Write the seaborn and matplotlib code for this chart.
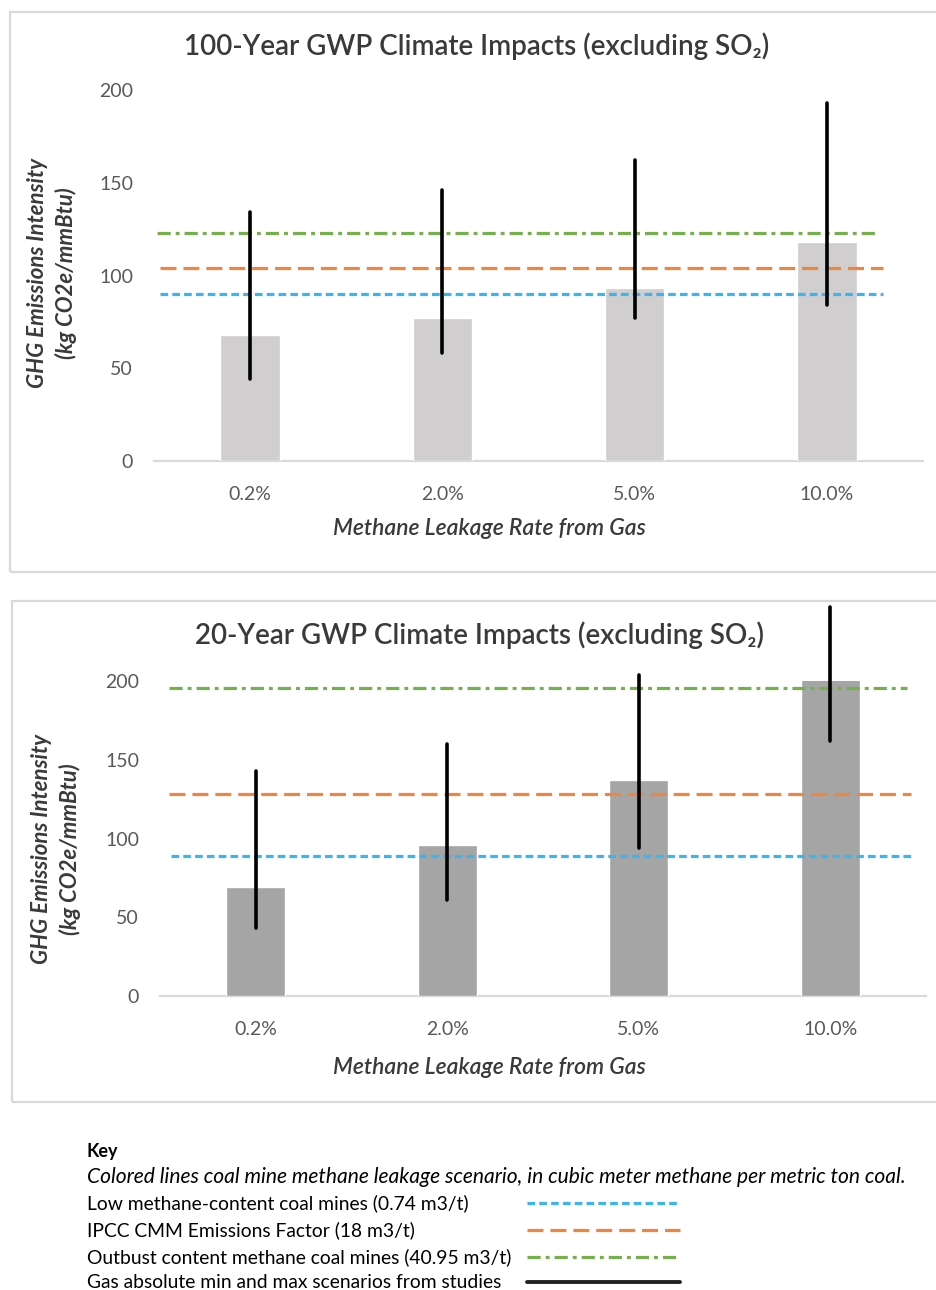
import matplotlib
matplotlib.use("Agg")
import matplotlib.pyplot as plt
from matplotlib.patches import Rectangle
import seaborn as sns
import pandas as pd

# ---------------- data ----------------
categories = ["0.2%", "2.0%", "5.0%", "10.0%"]

gwp100_gas = [68, 77, 93, 118]
gwp100_min = [44, 58, 77, 84]
gwp100_max = [134, 146, 162, 193]
gwp100_coal_low = 90
gwp100_coal_ipcc = 104
gwp100_coal_outburst = 123

gwp20_gas = [69.5, 96, 137, 201]
gwp20_min = [43, 61, 94, 162]
gwp20_max = [143, 160, 204, 247]
gwp20_coal_low = 89
gwp20_coal_ipcc = 128
gwp20_coal_outburst = 195.5

yticks = [0, 50, 100, 150, 200]

titles = ["100-Year GWP Climate Impacts (excluding SO\u2082)",
          "20-Year GWP Climate Impacts (excluding SO\u2082)"]
xlabel = "Methane Leakage Rate from Gas"
ylabel = "GHG Emissions Intensity\n(kg CO2e/mmBtu)"

key_title = "Key"
key_note = "Colored lines coal mine methane leakage scenario, in cubic meter methane per metric ton coal."
key_labels = ["Low methane-content coal mines (0.74 m3/t)",
              "IPCC CMM Emissions Factor (18 m3/t)",
              "Outbust content methane coal mines (40.95 m3/t)",
              "Gas absolute min and max scenarios from studies"]

# ---------------- style ----------------
sns.set_theme(style="white")
plt.rcParams["font.family"] = ["Lato", "DejaVu Sans"]
plt.rcParams["lines.scale_dashes"] = False

BLUE = "#3CB4EE"
ORANGE = "#EE8540"
GREEN = "#76B04E"
LINE_STYLES = [(BLUE, (0, (5.5, 3.0))),
               (ORANGE, (0, (11.5, 5.0))),
               (GREEN, (0, (9.5, 3.6, 2.8, 3.6)))]
TXT = "#3A3A3A"
TICK = "#595959"
GRID = "#D9D9D9"

W, H = 937, 1290
fig = plt.figure(figsize=(W / 100, H / 100), dpi=100)
fig.patch.set_facecolor("white")


def fx(px):
    return px / W


def fy(py):
    return 1 - py / H


# panel frames
for (x0, y0, x1, y1) in [(10, 12, 945, 572), (12, 601, 945, 1102)]:
    fig.add_artist(Rectangle((fx(x0), fy(y1)), fx(x1) - fx(x0), fy(y0) - fy(y1),
                             transform=fig.transFigure, fill=False,
                             edgecolor=GRID, lw=1.6))


def draw(ax, gas, lo, hi, coal, bar_color, span, title, title_xy):
    df = pd.DataFrame({"rate": categories, "value": gas})
    sns.barplot(data=df, x="rate", y="value", color=bar_color, width=0.31,
                saturation=1, ax=ax, zorder=2)
    ax.set_xlim(-0.5, 3.5)
    ax.set_ylim(0, 200)
    ax.set_yticks(yticks)
    for val, (col, ls), (xa, xb) in zip(coal, LINE_STYLES, span):
        ax.hlines(val, xa, xb, colors=col, linestyles=[ls], lw=2.3, zorder=3)
    ax.vlines(range(len(categories)), lo, hi, colors="black", lw=2.6,
              zorder=5, clip_on=False, capstyle="round")
    for s in ["top", "right", "left"]:
        ax.spines[s].set_visible(False)
    ax.spines["bottom"].set_color(GRID)
    ax.spines["bottom"].set_linewidth(1.6)
    ax.spines["bottom"].set_zorder(1)
    ax.tick_params(axis="both", length=0, labelcolor=TICK, labelsize=14)
    ax.tick_params(axis="x", pad=18)
    ax.tick_params(axis="y", pad=15)
    ax.set_facecolor("none")
    ax.set_xlabel(xlabel, fontsize=16.5, style="italic", fontweight=600, color=TXT)
    ax.set_ylabel("")
    fig.text(fx(title_xy[0]), fy(title_xy[1]), title, ha="center", va="center",
             fontsize=20, fontweight=600, color=TXT)


ax1 = fig.add_axes([fx(154), fy(461), (923 - 154) / W, (461 - 90) / H])
draw(ax1, gwp100_gas, gwp100_min, gwp100_max,
     [gwp100_coal_low, gwp100_coal_ipcc, gwp100_coal_outburst],
     "#D0CECE", [(-0.47, 3.29), (-0.47, 3.29), (-0.485, 3.27)],
     titles[0], (477, 46))
ax1.xaxis.set_label_coords((489 - 154) / 769, -(528 - 461) / 371)
ax1.xaxis.label.set_va("center")
fig.text(fx(52), fy(273), ylabel, rotation=90, ha="center", va="center",
         multialignment="center", fontsize=16, style="italic",
         fontweight="bold", color=TXT, linespacing=1.35)

ax2 = fig.add_axes([fx(160), fy(996), (926 - 160) / W, (996 - 681) / H])
draw(ax2, gwp20_gas, gwp20_min, gwp20_max,
     [gwp20_coal_low, gwp20_coal_ipcc, gwp20_coal_outburst],
     "#A5A5A5", [(-0.44, 3.43), (-0.455, 3.42), (-0.455, 3.4)],
     titles[1], (480, 635))
ax2.xaxis.set_label_coords((489 - 160) / 766, -(1068 - 996) / 315)
ax2.xaxis.label.set_va("center")
fig.text(fx(56), fy(849), ylabel, rotation=90, ha="center", va="center",
         multialignment="center", fontsize=16, style="italic",
         fontweight="bold", color=TXT, linespacing=1.35)

# ---------------- key ----------------
kax = fig.add_axes([0, 0, 1, 1], zorder=10)
kax.set_xlim(0, W)
kax.set_ylim(H, 0)
kax.axis("off")
kax.text(87, 1152, key_title, fontsize=13, fontweight="bold", color="black",
         va="center", ha="left")
kax.text(87, 1177, key_note, fontsize=15.1, style="italic", color="black",
         va="center", ha="left")
rows_y = [1203, 1230, 1257, 1282]
key_styles = LINE_STYLES + [("#222222", "solid")]
for lab, yy, (col, ls) in zip(key_labels, rows_y, key_styles):
    kax.text(87, yy, lab, fontsize=13.9, color="black", va="center", ha="left")
    kax.plot([527, 680], [yy, yy], color=col, linestyle=ls, lw=2.3 if ls != "solid" else 2.8)

fig.savefig("out.png", dpi=100, facecolor="white")
